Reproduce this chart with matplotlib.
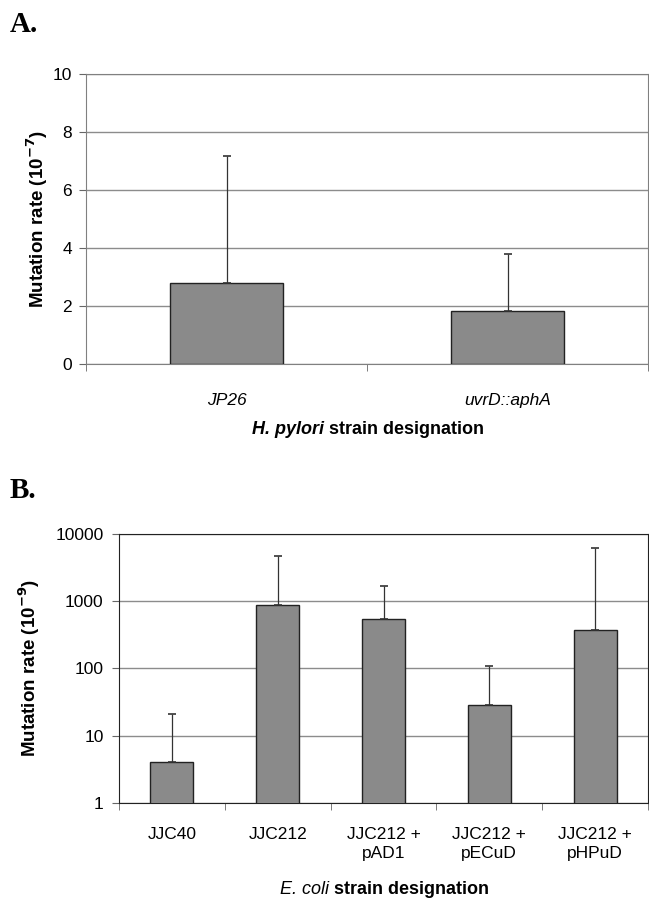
import numpy as np
import matplotlib.pyplot as plt

plt.rcParams['font.family'] = ['Liberation Sans', 'DejaVu Sans']

# panel A data (H. pylori), units 10^-7
strains_a = ['JP26', 'uvrD::aphA']
rate_a = [2.78, 1.84]
err_top_a = [7.17, 3.79]

# panel B data (E. coli), units 10^-9
strains_b = ['JJC40', 'JJC212', 'JJC212 +\npAD1', 'JJC212 +\npECuD', 'JJC212 +\npHPuD']
rate_b = [4.1, 880, 530, 28, 365]
err_top_b = [21, 4560, 1660, 107, 6000]

BAR = '#8a8a8a'
GRID = '#8c8c8c'
W, H = 649, 899


def mixed_label(fig, x, y, parts, size=13):
  # draw text pieces side by side, centred as a whole at (x, y) in pixels
  r = fig.canvas.get_renderer()
  texts = []
  for s, style, weight in parts:
    t = fig.text(0, 0, s, fontsize=size, fontweight=weight, style=style,
                 va='center', ha='left', transform=None)
    texts.append(t)
  widths = [t.get_window_extent(r).width for t in texts]
  x0 = x - sum(widths) / 2
  for t, w in zip(texts, widths):
    t.set_position((x0, y))
    x0 += w


def bar_panel(ax, names, vals, tops):
  pos = np.arange(len(names))
  up = np.array(tops) - np.array(vals)
  ax.bar(pos, vals, width=0.405, color=BAR, edgecolor='#222222', linewidth=1.0, zorder=3)
  ax.errorbar(pos, vals, yerr=[np.zeros(len(vals)), up], fmt='none',
              ecolor='#333333', elinewidth=0.9, capsize=3, capthick=1.2, zorder=4)
  ax.set_xlim(-0.5, len(names) - 0.5)
  ax.set_xticks(pos)
  ax.set_xticklabels(names, fontsize=12.5, linespacing=1.35)
  ax.set_xticks(np.arange(len(names) + 1) - 0.5, minor=True)
  ax.tick_params(axis='x', which='major', length=0, pad=17)
  ax.tick_params(axis='x', which='minor', length=5, color='#666666')
  ax.tick_params(axis='y', length=5, color='#666666', labelsize=12.5, pad=5)
  ax.yaxis.grid(True, color=GRID, linewidth=1.0, zorder=0)
  ax.set_axisbelow(True)


fig = plt.figure(figsize=(W / 100, H / 100), dpi=100)

# panel A
axa = fig.add_axes([86 / W, 1 - 364 / H, (648 - 86) / W, (364 - 74) / H])
bar_panel(axa, strains_a, rate_a, err_top_a)
axa.set_ylim(0, 10)
axa.set_yticks([0, 2, 4, 6, 8, 10])
for lab in axa.get_xticklabels():
  lab.set_style('italic')
axa.tick_params(axis='x', which='major', pad=21)
for s in axa.spines.values():
  s.set_color('#808080')
fig.text(37 / W, 1 - 219 / H, 'Mutation rate (10$^{\\mathbf{-7}}$)', rotation=90,
         fontsize=13.5, fontweight='bold', ha='center', va='center')

# panel B
axb = fig.add_axes([119 / W, 1 - 803 / H, (648 - 119) / W, (803 - 533.5) / H])
bar_panel(axb, strains_b, rate_b, err_top_b)
axb.set_yscale('log')
axb.set_ylim(1, 10000)
axb.set_yticks([1, 10, 100, 1000, 10000])
axb.set_yticklabels(['1', '10', '100', '1000', '10000'])
axb.yaxis.set_minor_locator(plt.NullLocator())
axb.tick_params(axis='y', pad=6)
for s in axb.spines.values():
  s.set_color('#222222')
fig.text(29 / W, 1 - 668 / H, 'Mutation rate (10$^{\\mathbf{-9}}$)', rotation=90,
         fontsize=13.5, fontweight='bold', ha='center', va='center')

# panel letters
fig.text(10 / W, 1 - 25 / H, 'A.', fontsize=21, fontweight='bold', family='Liberation Serif', va='center')
fig.text(10 / W, 1 - 491 / H, 'B.', fontsize=21, fontweight='bold', family='Liberation Serif', va='center')

# x axis titles with italic species names
mixed_label(fig, 368, H - 430, [('H. pylori ', 'italic', 'bold'), ('strain designation', 'normal', 'bold')])
mixed_label(fig, 385, H - 890, [('E. coli ', 'italic', 'normal'), ('strain designation', 'normal', 'bold')])

fig.savefig('out.png', dpi=100)
